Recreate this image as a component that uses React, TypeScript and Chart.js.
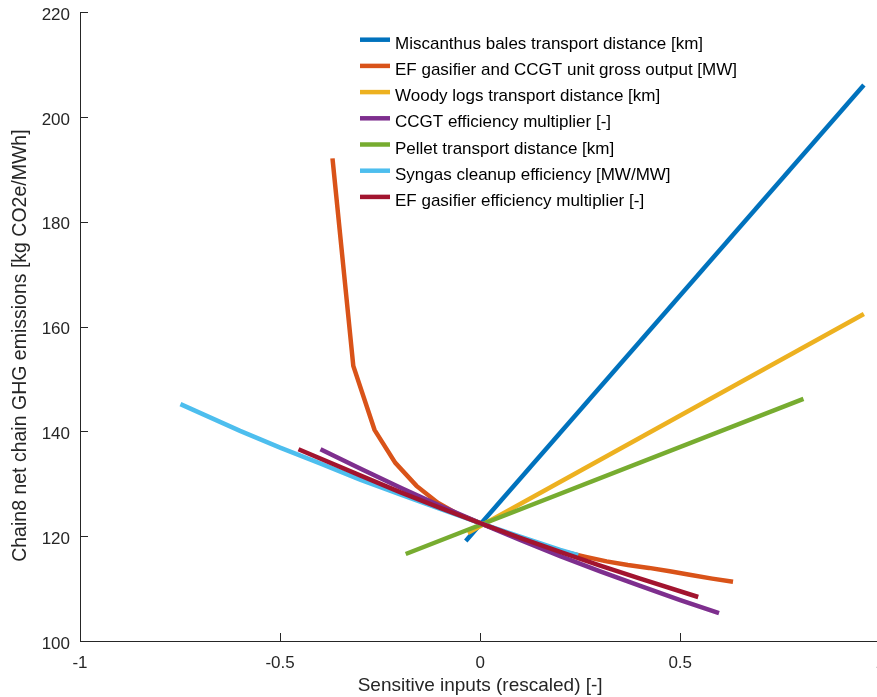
import React, { useEffect, useRef } from "react";
import { Chart, registerables } from "chart.js";

Chart.register(...registerables);

const seriesNames = [
  "Miscanthus bales transport distance [km]",
  "EF gasifier and CCGT unit gross output [MW]",
  "Woody logs transport distance [km]",
  "CCGT efficiency multiplier [-]",
  "Pellet transport distance [km]",
  "Syngas cleanup efficiency [MW/MW]",
  "EF gasifier efficiency multiplier [-]",
];
const seriesColors = ["#0072BD", "#D95319", "#EDB120", "#7E2F8E", "#77AC30", "#4DBEEE", "#A2142F"];

const miscanthusX = [-0.036, 0.959];
const miscanthusY = [119.1, 206.1];

const grossOutputX = [-0.369, -0.317, -0.264, -0.212, -0.159, -0.106, -0.053, 0, 0.053, 0.105, 0.158, 0.211, 0.264, 0.316, 0.369, 0.422, 0.474, 0.527, 0.58, 0.632];
const grossOutputY = [192.1, 152.5, 140.3, 134.0, 129.6, 126.4, 124.1, 122.5, 120.95, 119.5, 118.2, 117.0, 116.05, 115.2, 114.5, 113.95, 113.3, 112.6, 111.9, 111.3];

const woodyX = [-0.031, 0.959];
const woodyY = [120.6, 162.4];

const ccgtX = [-0.399, -0.3, -0.2, -0.1, 0, 0.1, 0.2, 0.3, 0.4, 0.5, 0.597];
const ccgtY = [136.6, 132.9, 129.3, 125.8, 122.5, 119.3, 116.2, 113.3, 110.5, 107.8, 105.3];

const pelletX = [-0.186, 0.808];
const pelletY = [116.6, 146.2];

const syngasX = [-0.749, -0.6, -0.5, -0.4, -0.3, -0.2, -0.1, 0, 0.1, 0.2, 0.245];
const syngasY = [145.2, 140.1, 136.9, 133.9, 130.8, 128.0, 125.2, 122.5, 119.9, 117.4, 116.4];

const efEffX = [-0.454, -0.3, -0.2, -0.1, 0, 0.1, 0.2, 0.3, 0.4, 0.545];
const efEffY = [136.6, 131.6, 128.4, 125.4, 122.5, 119.7, 117.0, 114.4, 111.9, 108.4];

const seriesX = [miscanthusX, grossOutputX, woodyX, ccgtX, pelletX, syngasX, efEffX];
const seriesY = [miscanthusY, grossOutputY, woodyY, ccgtY, pelletY, syngasY, efEffY];

const xTickValues = [-1, -0.5, 0, 0.5, 1];
const xTickLabels = ["-1", "-0.5", "0", "0.5", "1"];
const yTickValues = [100, 120, 140, 160, 180, 200, 220];
const yTickLabels = ["100", "120", "140", "160", "180", "200", "220"];

const xTitle = "Sensitive inputs (rescaled) [-]";
const yTitle = "Chain8 net chain GHG emissions [kg CO2e/MWh]";

const FONT = "'Liberation Sans', Arial, Helvetica, sans-serif";
const AXIS_COLOR = "#262626";
const LINE_W = 4.5;

const inwardTicks = {
  id: "inwardTicks",
  afterDraw(chart: any) {
    const { ctx, chartArea, scales } = chart;
    ctx.save();
    ctx.strokeStyle = AXIS_COLOR;
    ctx.lineWidth = 1;
    xTickValues.forEach((v) => {
      const px = Math.round(scales.x.getPixelForValue(v)) + 0.5;
      ctx.beginPath();
      ctx.moveTo(px, chartArea.bottom);
      ctx.lineTo(px, chartArea.bottom - 8);
      ctx.stroke();
    });
    yTickValues.forEach((v) => {
      const py = Math.round(scales.y.getPixelForValue(v)) + 0.5;
      ctx.beginPath();
      ctx.moveTo(chartArea.left, py);
      ctx.lineTo(chartArea.left + 8, py);
      ctx.stroke();
    });
    ctx.restore();
  },
};

const yTitlePlugin = {
  id: "yTitlePlugin",
  afterDraw(chart: any) {
    const { ctx, chartArea } = chart;
    ctx.save();
    ctx.translate(chartArea.left - 59.5, (chartArea.top + chartArea.bottom) / 2 + 19);
    ctx.rotate(-Math.PI / 2);
    ctx.font = `19.5px ${FONT}`;
    ctx.fillStyle = AXIS_COLOR;
    ctx.textAlign = "center";
    ctx.textBaseline = "middle";
    ctx.fillText(yTitle, 0, 0);
    ctx.restore();
  },
};

const customLegend = {
  id: "customLegend",
  afterDraw(chart: any) {
    const { ctx, chartArea } = chart;
    const x0 = chartArea.left + 280;
    const y0 = chartArea.top + 27.5;
    const rowH = 26.2;
    ctx.save();
    ctx.font = `17px ${FONT}`;
    ctx.textBaseline = "alphabetic";
    ctx.textAlign = "left";
    seriesNames.forEach((name, i) => {
      const y = y0 + i * rowH;
      ctx.strokeStyle = seriesColors[i];
      ctx.lineWidth = LINE_W;
      ctx.beginPath();
      ctx.moveTo(x0, y);
      ctx.lineTo(x0 + 30, y);
      ctx.stroke();
      ctx.fillStyle = "#000000";
      ctx.fillText(name, x0 + 35, y + 9);
    });
    ctx.restore();
  },
};

export default function App() {
  const canvasRef = useRef<HTMLCanvasElement | null>(null);

  useEffect(() => {
    if (!canvasRef.current) return;
    const datasets = seriesNames.map((name, i) => ({
      label: name,
      data: seriesX[i].map((x, j) => ({ x, y: seriesY[i][j] })),
      borderColor: seriesColors[i],
      backgroundColor: seriesColors[i],
      borderWidth: LINE_W,
      pointRadius: 0,
      tension: 0,
      fill: false,
      order: seriesNames.length - i,
    }));
    const chart = new Chart(canvasRef.current, {
      type: "line",
      data: { datasets },
      plugins: [inwardTicks, yTitlePlugin, customLegend],
      options: {
        animation: false,
        responsive: true,
        maintainAspectRatio: false,
        layout: { padding: { top: 4, right: 3, left: 0, bottom: 0 } },
        plugins: {
          legend: { display: false },
          tooltip: { enabled: false },
        },
        scales: {
          x: {
            type: "linear",
            min: -1,
            max: 1,
            afterFit: (scale: any) => {
              scale.height = 56;
            },
            afterBuildTicks: (scale: any) => {
              scale.ticks = xTickValues.map((v) => ({ value: v }));
            },
            ticks: {
              padding: 4,
              color: AXIS_COLOR,
              font: { family: FONT, size: 17 },
              maxRotation: 0,
              callback: (v: any) => {
                const idx = xTickValues.indexOf(Number(v));
                return idx >= 0 ? xTickLabels[idx] : "";
              },
            },
            grid: { display: false },
            border: { display: true, color: AXIS_COLOR, width: 1 },
            title: {
              display: true,
              text: xTitle,
              color: AXIS_COLOR,
              font: { family: FONT, size: 19 },
              padding: { top: 0, bottom: 0 },
            },
          },
          y: {
            type: "linear",
            min: 100,
            max: 220,
            afterFit: (scale: any) => {
              scale.width = 80;
            },
            afterBuildTicks: (scale: any) => {
              scale.ticks = yTickValues.map((v) => ({ value: v }));
            },
            ticks: {
              padding: 2,
              labelOffset: 3,
              color: AXIS_COLOR,
              font: { family: FONT, size: 17 },
              callback: (v: any) => {
                const idx = yTickValues.indexOf(Number(v));
                return idx >= 0 ? yTickLabels[idx] : "";
              },
            },
            grid: { display: false },
            border: { display: true, color: AXIS_COLOR, width: 1 },
            title: { display: false },
          },
        },
      },
    });
    return () => chart.destroy();
  }, []);

  return (
    <div style={{ position: "fixed", left: 0, top: 0, width: 877, height: 697, overflow: "hidden", background: "#ffffff" }}>
      <div style={{ position: "relative", width: 889, height: 697 }}>
        <canvas ref={canvasRef} />
      </div>
    </div>
  );
}
